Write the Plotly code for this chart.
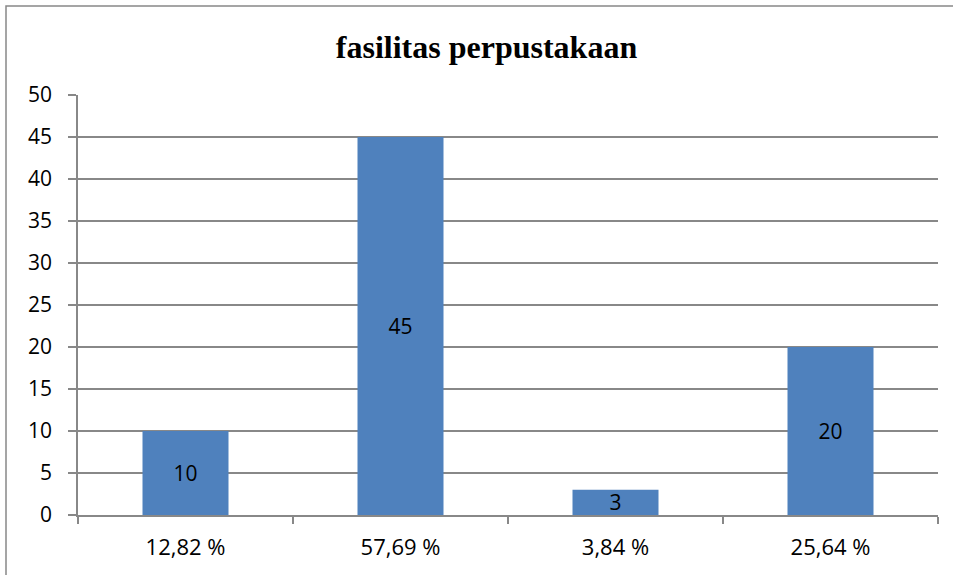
import plotly.graph_objects as go

categories = ["12,82 %", "57,69 %", "3,84 %", "25,64 %"]
values = [10, 45, 3, 20]
title_text = "fasilitas perpustakaan"

W, H = 953, 575
L, R, T, B = 78, 15, 95, 60
pw, ph = W - L - R, H - T - B

fig = go.Figure(go.Bar(
    x=categories, y=values, text=[str(v) for v in values],
    textposition="inside", insidetextanchor="middle", textangle=0,
    constraintext="none",
    textfont=dict(family="Open Sans", size=21, color="black"),
    marker=dict(color="#4F81BD", line=dict(width=0)),
    width=0.4,
))

gray = "#888888"
fig.update_layout(
    width=W, height=H,
    margin=dict(l=L, r=R, t=T, b=B),
    plot_bgcolor="white", paper_bgcolor="white",
    showlegend=False,
    title=dict(text="<b>" + title_text + "</b>", x=(335 + 638) / 2 / W, xanchor="center",
               y=1 - 47 / H, yanchor="middle",
               font=dict(family="Liberation Serif", size=32, color="black")),
    xaxis=dict(type="category", showline=True, linecolor=gray, linewidth=1.5,
               ticks="outside", tickson="boundaries", ticklen=7, tickcolor=gray, tickwidth=1.5,
               tickfont=dict(family="Open Sans", size=22, color="black"),
               showgrid=False, range=[-0.5, 3.5], ticklabelstandoff=12),
    yaxis=dict(range=[0, 50], dtick=5, showgrid=True, gridcolor=gray, gridwidth=1.5,
               showline=True, linecolor=gray, linewidth=1.5,
               ticks="outside", ticklen=8, tickcolor=gray, tickwidth=1.5,
               tickfont=dict(family="Open Sans", size=21, color="black"),
               zeroline=False, ticklabelstandoff=12),
    shapes=[dict(type="rect", xref="paper", yref="paper",
                 x0=(6 - L) / pw, x1=(W + 20 - L) / pw,
                 y0=-(B + 20) / ph, y1=1 + (T - 6) / ph,
                 line=dict(color=gray, width=1.5), fillcolor="rgba(0,0,0,0)", layer="below")],
)

fig.write_html("out.html", config={"displayModeBar": False},
               post_script="document.body.style.margin='0';document.body.style.overflow='hidden';")
